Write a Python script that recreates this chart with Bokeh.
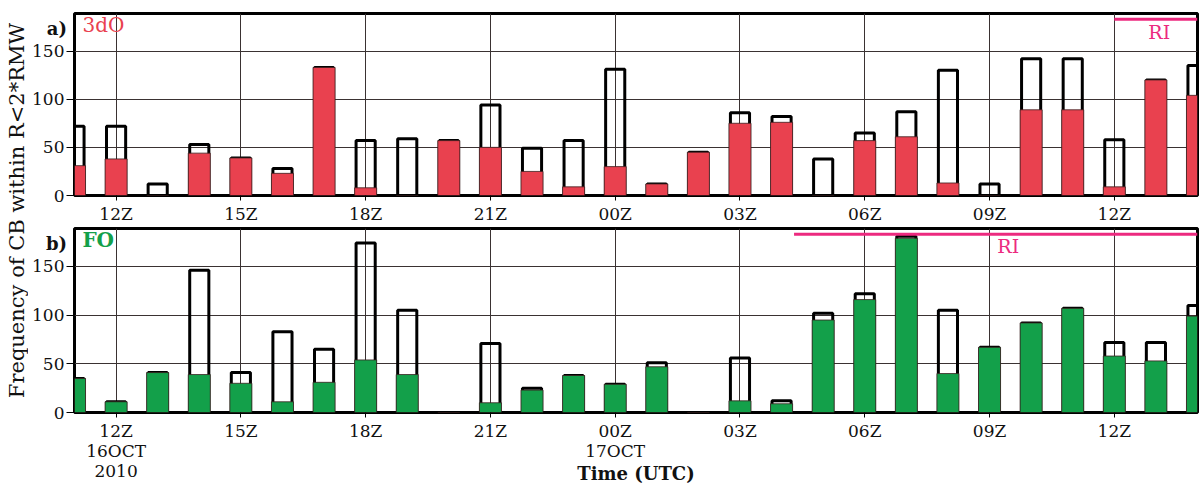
import math
from bokeh.plotting import figure
from bokeh.layouts import row, column
from bokeh.models import Range1d, FixedTicker, Label, ColumnDataSource
from bokeh.embed import file_html
from bokeh.resources import INLINE

# hours relative to 12Z 16 Oct 2010 (11Z 16 Oct ... 14Z 17 Oct)
hours = list(range(-1, 27))

# panel a) 3dO
total_a = [72, 72, 12, 53, 39, 28, 133, 57, 59, 57, 94, 49, 57, 131,
           12, 45, 86, 82, 38, 65, 87, 130, 12, 142, 142, 58, 120, 135]
dO3_a = [31, 38, 0, 44, 39, 23, 133, 8, 0, 57, 50, 25, 9, 30,
         12, 45, 75, 76, 0, 57, 61, 13, 0, 89, 89, 9, 120, 104]

# panel b) FO
total_b = [35, 11, 41, 146, 41, 83, 65, 174, 105, 0, 71, 25, 38, 29,
           51, 0, 56, 12, 102, 122, 181, 105, 67, 92, 107, 72, 72, 110]
fo_b = [35, 11, 41, 39, 30, 11, 31, 54, 39, 0, 10, 23, 38, 29,
        47, 0, 12, 9, 95, 116, 179, 40, 67, 92, 107, 58, 53, 99]

tick_hours = [0, 3, 6, 9, 12, 15, 18, 21, 24]
tick_labels = ["12Z", "15Z", "18Z", "21Z", "00Z", "03Z", "06Z", "09Z", "12Z"]
date_labels = {0: "16OCT\n2010", 12: "17OCT"}
y_ticks = [0, 50, 100, 150]

# RI periods (hours) and level
ri_a = [24, 26]
ri_b = [16.3, 26]
ri_level = 183

FONT = "DejaVu Serif"
RED = "#e9414f"
GREEN = "#13a04a"
PINK = "#ec2a7f"
GRID = "#3a3232"

X_RANGE = (-1, 26)
Y_RANGE = (0, 189)


def make_panel(height, border_top, border_bottom, total, colored, color, labels, tag):
    p = figure(width=1174, height=height, output_backend="svg", toolbar_location=None,
               x_range=Range1d(*X_RANGE), y_range=Range1d(*Y_RANGE),
               min_border_left=46, min_border_right=5,
               min_border_top=border_top, min_border_bottom=border_bottom)
    p.background_fill_color = "white"
    p.border_fill_color = "white"
    p.outline_line_color = "black"
    p.outline_line_width = 3

    src = ColumnDataSource(dict(x=hours, total=total, colored=colored))
    p.vbar(x="x", top="total", bottom=0, width=0.46, source=src,
           fill_color=None, line_color="black", line_width=3)
    p.vbar(x="x", top="colored", bottom=0, width=0.53, source=src,
           fill_color=color, line_color="#3a2020", line_width=0.8)

    p.xaxis.ticker = FixedTicker(ticks=tick_hours)
    p.xaxis.major_label_overrides = labels
    p.yaxis.ticker = FixedTicker(ticks=y_ticks)
    for ax in (p.xaxis[0], p.yaxis[0]):
        ax.axis_line_color = None
        ax.major_tick_in = 0
        ax.minor_tick_line_color = None
        ax.major_tick_line_color = "black"
        ax.major_tick_line_width = 1
        ax.major_label_text_font = FONT
        ax.major_label_text_font_size = "17px"
        ax.major_label_text_color = "#111111"
    p.xaxis.major_label_text_line_height = 1.0
    p.xaxis.major_tick_out = 5
    p.xaxis.major_label_standoff = 3
    p.yaxis.major_tick_out = 8
    p.yaxis.major_label_standoff = 2

    # panel tag as a horizontal y-axis title at the top end
    p.yaxis.axis_label = "\n" + tag
    p.yaxis.axis_label_orientation = "horizontal"
    p.yaxis.axis_label_align = "end"
    p.yaxis.axis_label_standoff = -38
    p.yaxis.axis_label_text_font = FONT
    p.yaxis.axis_label_text_font_size = "18px"
    p.yaxis.axis_label_text_font_style = "bold"
    p.yaxis.axis_label_text_line_height = 1.4
    p.yaxis.axis_label_text_color = "#111111"

    p.xgrid.ticker = FixedTicker(ticks=tick_hours)
    p.ygrid.ticker = FixedTicker(ticks=y_ticks)
    p.grid.grid_line_color = GRID
    p.grid.grid_line_width = 1
    return p


labels_a = {h: t for h, t in zip(tick_hours, tick_labels)}
labels_b = {h: (t + "\n" + date_labels[h] if h in date_labels else t)
            for h, t in zip(tick_hours, tick_labels)}

p1 = make_panel(226, 13, 30, total_a, dO3_a, RED, labels_a, "a)")
p2 = make_panel(260, 2, 74, total_b, fo_b, GREEN, labels_b, "b)")

# x-axis title (pulled up beside the last date line)
p2.xaxis.axis_label = "Time (UTC)"
p2.xaxis.axis_label_text_font = FONT
p2.xaxis.axis_label_text_font_size = "18px"
p2.xaxis.axis_label_text_font_style = "bold"
p2.xaxis.axis_label_text_color = "#111111"
p2.xaxis.axis_label_standoff = -21

# RI markers
p1.line(x=ri_a, y=[ri_level, ri_level], line_color=PINK, line_width=3)
p2.line(x=ri_b, y=[ri_level, ri_level], line_color=PINK, line_width=3)
p1.add_layout(Label(x=25.08, y=169.5, text="RI", text_font=FONT, text_font_size="19px",
                    text_color=PINK, text_align="center", text_baseline="middle"))
p2.add_layout(Label(x=21.45, y=171, text="RI", text_font=FONT, text_font_size="19px",
                    text_color=PINK, text_align="center", text_baseline="middle"))

# experiment names
p1.add_layout(Label(x=-0.81, y=177, text="3dO", text_font=FONT, text_font_size="20px",
                    text_color=RED, text_align="left", text_baseline="middle"))
p2.add_layout(Label(x=-0.81, y=177, text="FO", text_font=FONT, text_font_size="20px",
                    text_color=GREEN, text_font_style="bold", text_align="left",
                    text_baseline="middle"))

# y-axis title figure
pl = figure(width=28, height=486, output_backend="svg", toolbar_location=None,
            x_range=Range1d(0, 28), y_range=Range1d(0, 486),
            x_axis_location=None, y_axis_location=None, min_border=0)
pl.outline_line_color = None
pl.grid.visible = False
pl.add_layout(Label(x=16, y=276, text="Frequency of CB within R<2*RMW", angle=math.pi / 2,
                    text_font=FONT, text_font_size="21px", text_color="#111111",
                    text_align="center", text_baseline="middle"))

layout = row(pl, column(p1, p2, spacing=0), spacing=0)
open("out.html", "w").write(file_html(layout, INLINE))
